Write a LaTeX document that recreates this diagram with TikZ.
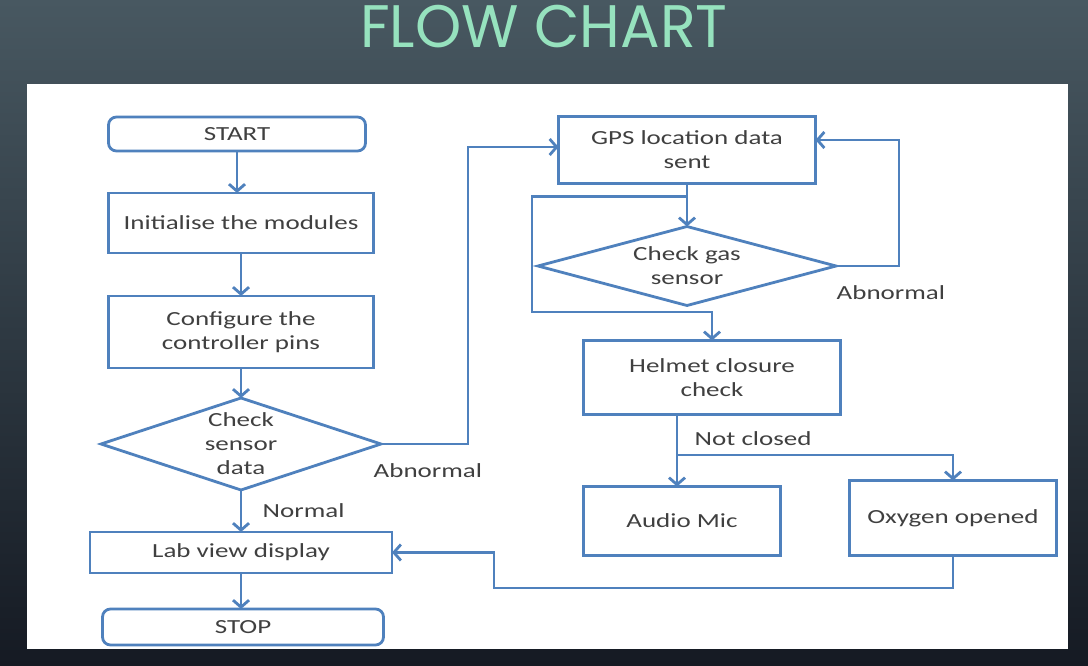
\documentclass[tikz,border=0pt]{standalone}
\usepackage{fontspec}
\setmainfont{Carlito}[FakeStretch=1.35]
\newfontfamily\titlefont{Poppins}[FakeStretch=0.98]
\usepackage{tikz}
\usetikzlibrary{shapes.geometric, arrows.meta, positioning}

\definecolor{bgtop}{RGB}{72,88,97}
\definecolor{bgmid}{RGB}{46,57,66}
\definecolor{bgbot}{RGB}{21,26,35}
\definecolor{titlegreen}{RGB}{150,226,190}
\definecolor{flowblue}{RGB}{79,129,189}
\definecolor{txtgray}{RGB}{64,64,64}

\begin{document}
\begin{tikzpicture}[
    x=1pt, y=-1pt,
    font=\fontsize{20}{24}\selectfont,
    terminal/.style={rectangle, draw=flowblue, rounded corners=8pt, line width=2.8pt, outer sep=0pt, align=center, text=txtgray},
    process/.style={rectangle, draw=flowblue, line width=2.8pt, outer sep=0pt, align=center, text=txtgray},
    decision/.style={diamond, draw=flowblue, line width=2.8pt, outer sep=0pt, inner sep=0pt},
    lbl/.style={text=txtgray, anchor=west},
    arrow/.style={draw=flowblue, line width=2.8pt, -{Straight Barb[length=7pt, width=16pt]}}
]

% Background
\useasboundingbox (0,0) rectangle (1088,666);
\shade[top color=bgtop, bottom color=bgbot, middle color=bgmid] (0,0) rectangle (1088,666);
\fill[white] (27,84) rectangle (1068,649);
\node[text=titlegreen, font=\titlefont\fontsize{60}{60}\selectfont] (title) at (544,27) {FLOW CHART};

% Nodes
\node[terminal, minimum width=257pt, minimum height=34pt] (start) at (237,134) {START};
\node[process, minimum width=265pt, minimum height=60pt, below=42pt of start, xshift=4pt] (init) {Initialise the modules};
\node[process, minimum width=265pt, minimum height=72pt, below=43pt of init] (conf) {Configure the\\controller pins};
\node[decision, minimum width=280pt, minimum height=92pt, below=30pt of conf,
      label={[align=center, text=txtgray]center:{Check\\sensor\\data}}] (chk) {};
\node[process, minimum width=302pt, minimum height=41pt, below=42pt of chk] (lab) {Lab view display};
\node[terminal, minimum width=281pt, minimum height=36pt, below=36pt of lab, xshift=2pt] (stop) {STOP};

\node[process, minimum width=257pt, minimum height=67pt] (gps) at (687,150) {GPS location data\\sent};
\node[decision, minimum width=298pt, minimum height=79pt, below=43pt of gps,
      label={[align=center, text=txtgray]center:{Check gas\\sensor}}] (gas) {};
\node[process, minimum width=257pt, minimum height=74pt, below=35pt of gas, xshift=25pt] (helm) {Helmet closure\\check};
\node[process, minimum width=197pt, minimum height=69pt, below=72pt of helm, xshift=-30pt] (audio) {Audio Mic};
\node[process, minimum width=207pt, minimum height=75pt, right=69pt of audio, yshift=3pt] (oxy) {Oxygen opened};

\coordinate (loopL) at (532,312);
\coordinate (fork) at (677,455);
\coordinate (ret) at (494,588);

% Connections
\draw[arrow] (start.south) -- (start.south |- init.north);
\draw[arrow] (init) -- (conf);
\draw[arrow] (conf) -- (chk);
\draw[arrow] (chk) -- node[lbl, xshift=17pt] {Normal} (lab);
\draw[arrow] (lab) -- (lab |- stop.north);
\draw[arrow] (chk.east) -- node[lbl, pos=0, xshift=-12pt, yshift=-27pt] {Abnormal} ++(87,0) |- ([yshift=3pt]gps.west);

\draw[arrow] (gps) -- (gas);
\draw[arrow] ([yshift=-13pt]gps.south) -| (loopL) -| (helm.north);
\draw[arrow] (gas.east) -- node[lbl, pos=0, xshift=-4pt, yshift=-27pt] {Abnormal} ++(63,0) |- ([yshift=10pt]gps.east);
\draw[line width=2.8pt, draw=flowblue] ([xshift=-35pt]helm.south) -- node[lbl, pos=1, xshift=13pt, yshift=16pt] {Not closed} (fork);
\draw[arrow] (fork) -- (fork |- audio.north);
\draw[arrow] (fork) -| (oxy.north);
\draw[arrow] (oxy.south) |- (ret) |- (lab.east);

\end{tikzpicture}
\end{document}
